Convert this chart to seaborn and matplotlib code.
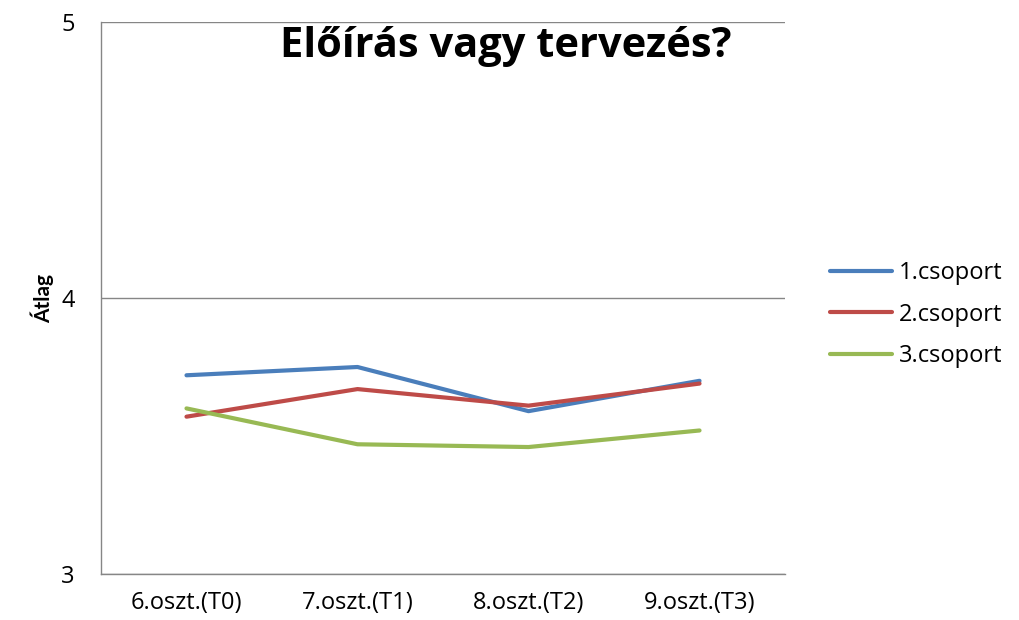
import pandas as pd
import matplotlib.pyplot as plt
import seaborn as sns
from matplotlib.ticker import FixedLocator

# data
categories = ["6.oszt.(T0)", "7.oszt.(T1)", "8.oszt.(T2)", "9.oszt.(T3)"]
groups = ["1.csoport", "2.csoport", "3.csoport"]
csoport1 = [3.72, 3.75, 3.59, 3.70]
csoport2 = [3.57, 3.67, 3.61, 3.69]
csoport3 = [3.60, 3.47, 3.46, 3.52]

rows = []
for g, vals in zip(groups, [csoport1, csoport2, csoport3]):
    for c, v in zip(categories, vals):
        rows.append({"Osztály": c, "Átlag": v, "Csoport": g})
df = pd.DataFrame(rows)

sns.set_style("white")
plt.rcParams["font.family"] = ["Open Sans", "DejaVu Sans"]
plt.rcParams["text.color"] = "black"
plt.rcParams["xtick.color"] = "black"
plt.rcParams["ytick.color"] = "black"
plt.rcParams["axes.labelcolor"] = "black"

fig = plt.figure(figsize=(10.19, 6.2), dpi=100)
ax = fig.add_axes([0.0991, 0.0742, 0.6713, 0.8903])

palette = {"1.csoport": "#4a7ebb", "2.csoport": "#be4b48", "3.csoport": "#98b954"}
sns.lineplot(data=df, x="Osztály", y="Átlag", hue="Csoport", palette=palette,
             linewidth=3, sort=False, ax=ax)

ax.set_xlim(-0.5, 3.5)
ax.set_ylim(3, 5)
ax.set_yticks([3, 4, 5])
ax.yaxis.grid(True, color="#868686", linewidth=1)
ax.set_axisbelow(True)

for s in ["top", "right"]:
    ax.spines[s].set_visible(False)
for s in ["left", "bottom"]:
    ax.spines[s].set_color("#868686")
    ax.spines[s].set_linewidth(1)

ax.set_xticks(range(len(categories)))
ax.set_xticklabels(categories, fontsize=17)
ax.xaxis.set_minor_locator(FixedLocator([-0.5, 0.5, 1.5, 2.5, 3.5]))
ax.tick_params(axis="x", which="major", length=0, pad=12)
ax.tick_params(axis="x", which="minor", length=6, color="#868686", direction="out")
ax.tick_params(axis="y", length=6, color="#868686", direction="out", labelsize=17, pad=13)
ax.tick_params(axis="both", labelcolor="black")

ax.set_xlabel("")
ax.set_ylabel("Átlag", fontsize=15, fontweight="bold", family=["Lato", "Open Sans"])
ax.yaxis.set_label_coords(-0.068, 0.5)

ax.text(0.592, 0.9366, "Előírás vagy tervezés?", transform=ax.transAxes,
        ha="center", va="baseline", fontsize=30, fontweight="bold", color="black")

leg = ax.legend(loc="center left", bbox_to_anchor=(1.035, 0.47), frameon=False,
                fontsize=17, handlelength=2.6, labelspacing=0.75, handletextpad=0.3)
for line in leg.get_lines():
    line.set_linewidth(3)

fig.savefig("out.png", dpi=100)
